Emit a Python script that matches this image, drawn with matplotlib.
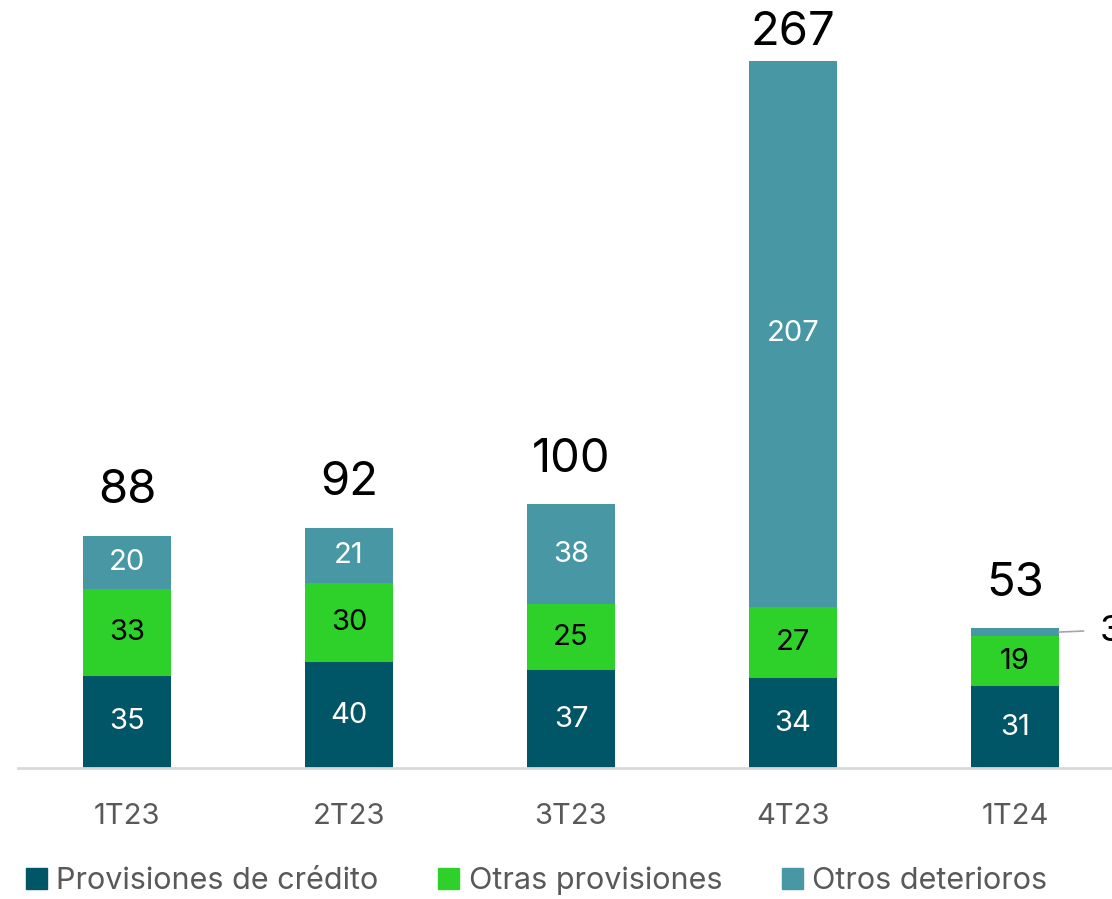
import matplotlib.pyplot as plt
from matplotlib.patches import Patch
import numpy as np

plt.rcParams['font.family'] = ['Inter', 'DejaVu Sans']

periodos = ["1T23", "2T23", "3T23", "4T23", "1T24"]
prov_credito = [35, 40, 37, 34, 31]
otras_prov = [33, 30, 25, 27, 19]
otros_det = [20, 21, 38, 207, 3]
totales = [88, 92, 100, 267, 53]

c_credito = "#005566"
c_otras = "#2ED12A"
c_det = "#4797A5"

fig = plt.figure(figsize=(11.12, 8.99), dpi=100)
ax = fig.add_axes([18 / 1112, 1 - 768 / 899, 1 - 18 / 1112, 768 / 899])

x = np.arange(len(periodos))
w = 0.396
b1 = np.array(prov_credito)
b2 = b1 + np.array(otras_prov)
tot = b2 + np.array(otros_det)

ax.bar(x, prov_credito, w, color=c_credito, label="Provisiones de crédito")
ax.bar(x, otras_prov, w, bottom=b1, color=c_otras, label="Otras provisiones")
ax.bar(x, otros_det, w, bottom=b2, color=c_det, label="Otros deterioros")

ax.set_xlim(-0.491, 4.437)
ax.set_ylim(0, 291)

fs_in = 21
for i in range(len(periodos)):
    ax.text(x[i], prov_credito[i] / 2, str(prov_credito[i]), ha="center", va="center",
            color="white", fontsize=fs_in)
    ax.text(x[i], b1[i] + otras_prov[i] / 2, str(otras_prov[i]), ha="center", va="center",
            color="black", fontsize=fs_in)
    if otros_det[i] > 5:
        ax.text(x[i], b2[i] + otros_det[i] / 2, str(otros_det[i]), ha="center", va="center",
                color="white", fontsize=fs_in)
    else:
        # etiqueta pequeña con línea guía
        ax.plot([x[i] + w / 2, x[i] + w / 2 + 0.11], [b2[i] + otros_det[i] / 2, b2[i] + otros_det[i] / 2 + 0.4],
                color="#A6A6A6", lw=1.2, clip_on=False)
        ax.text(x[i] + w / 2 + 0.185, b2[i] + otros_det[i] / 2 + 0.4, str(otros_det[i]),
                ha="left", va="center", color="black", fontsize=26, clip_on=False)
    # total arriba de la barra (limitado al borde superior)
    ax.text(x[i], min(tot[i] + 8.5, 270), str(totales[i]), ha="center", va="bottom",
            color="black", fontsize=34)

for s in ["top", "right", "left"]:
    ax.spines[s].set_visible(False)
ax.spines["bottom"].set_color("#D9D9D9")
ax.spines["bottom"].set_linewidth(2)
ax.set_yticks([])
ax.set_xticks(x)
ax.set_xticklabels(periodos, fontsize=21, color="#595959")
ax.tick_params(axis="x", length=0, pad=25)

handles = [Patch(color=c_credito), Patch(color=c_otras), Patch(color=c_det)]
labels = ["Provisiones de crédito", "Otras provisiones", "Otros deterioros"]
fig.legend(handles, labels, loc="center left", bbox_to_anchor=(0.012, 1 - 881 / 899),
           ncol=3, frameon=False, fontsize=22, labelcolor="#595959",
           handlelength=0.7, handleheight=0.7, handletextpad=0.3, columnspacing=1.95,
           borderaxespad=0)

fig.savefig("out.png", dpi=100)
